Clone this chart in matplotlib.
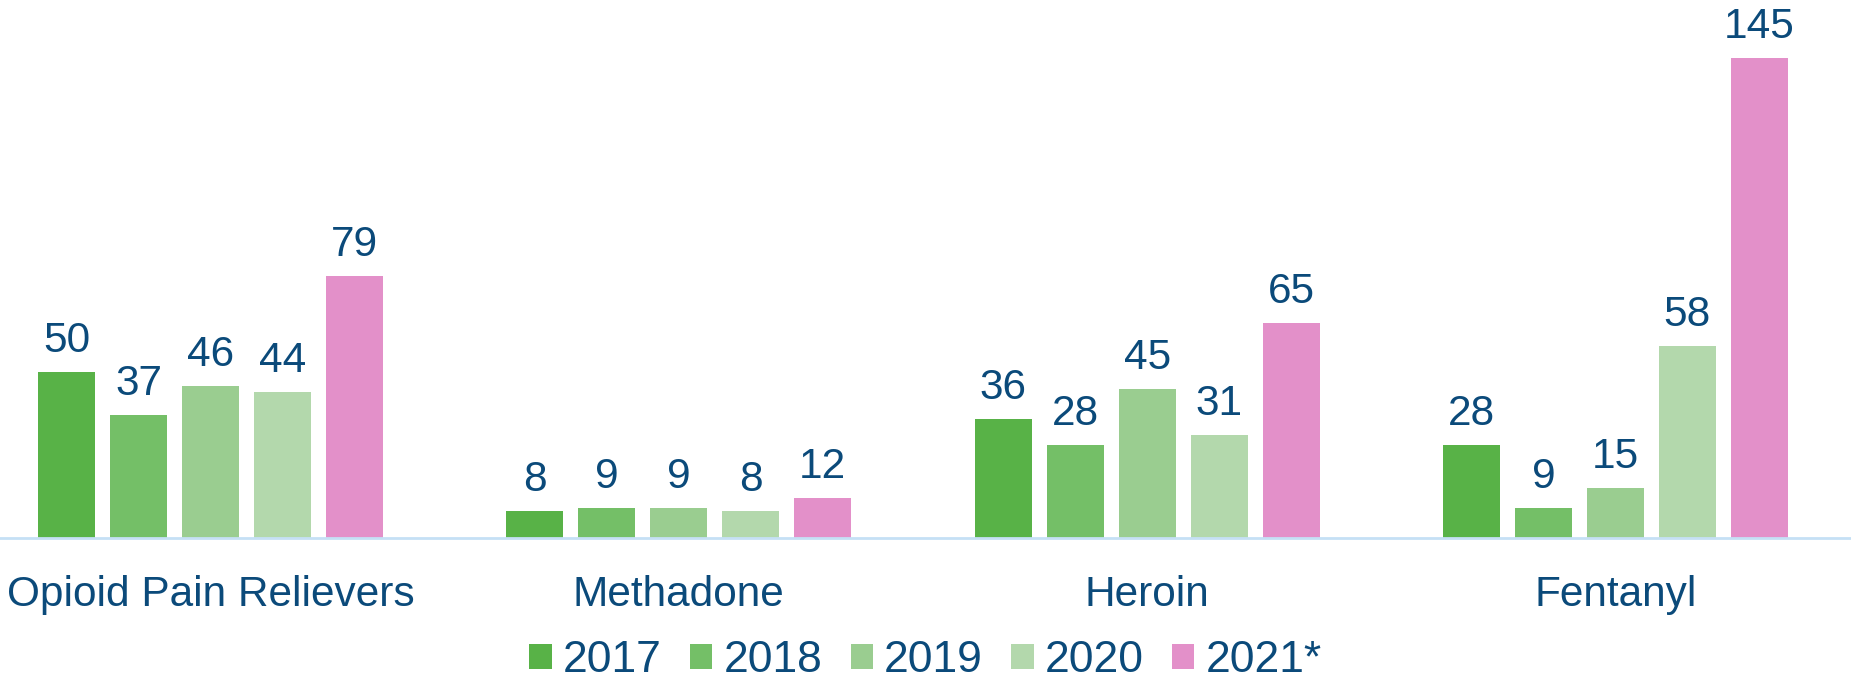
import matplotlib
matplotlib.use("Agg")
import matplotlib.pyplot as plt
import numpy as np

categories = ["Opioid Pain Relievers", "Methadone", "Heroin", "Fentanyl"]
years = ["2017", "2018", "2019", "2020", "2021*"]
v2017 = [50, 8, 36, 28]
v2018 = [37, 9, 28, 9]
v2019 = [46, 9, 45, 15]
v2020 = [44, 8, 31, 58]
v2021 = [79, 12, 65, 145]
series = [v2017, v2018, v2019, v2020, v2021]
colors = ["#58B247", "#74BF67", "#9ACD90", "#B3D8AC", "#E390C9"]
text_color = "#0B4A7A"

plt.rcParams['font.family'] = ['Liberation Sans', 'DejaVu Sans']

fig = plt.figure(figsize=(18.51, 6.84), dpi=100)
ax = fig.add_axes([0, 0.2135, 1, 0.7865])

x = np.arange(len(categories))
step = 0.1537
width = 0.1217
for i, (vals, c, yr) in enumerate(zip(series, colors, years)):
    pos = x + (i - 2) * step
    ax.bar(pos, vals, width=width, color=c, label=yr)
    for p, v in zip(pos, vals):
        ax.annotate(str(v), (p, v), xytext=(0, 8), textcoords="offset points",
                    ha="center", va="bottom", fontsize=30.5, color=text_color)

ax.set_xlim(-0.4495, 3.503)
ax.set_ylim(0, 162.5)
for s in ["top", "right", "left"]:
    ax.spines[s].set_visible(False)
ax.spines["bottom"].set_color("#C5E0F5")
ax.spines["bottom"].set_linewidth(2)
ax.set_yticks([])
ax.set_xticks(x)
ax.set_xticklabels(categories, fontsize=30.5, color=text_color)
ax.tick_params(axis="x", length=0, pad=27)

leg = fig.legend(loc="center", bbox_to_anchor=(0.5, 0.034), ncol=5, frameon=False,
                 fontsize=32, handlelength=0.5, handleheight=0.5,
                 handletextpad=0.25, columnspacing=0.64)
for t in leg.get_texts():
    t.set_color(text_color)

fig.savefig("out.png", dpi=100)
